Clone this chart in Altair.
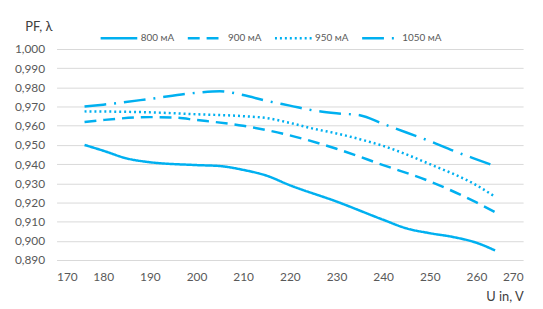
import altair as alt
import pandas as pd

series_names = ["800 мА", "900 мА", "950 мА", "1050 мА"]

u_800 = [176, 180, 185, 190, 200, 205, 210, 215, 220, 230, 240, 245, 250, 255, 260, 264]
pf_800 = [0.950, 0.947, 0.943, 0.941, 0.9395, 0.939, 0.937, 0.934, 0.929, 0.9205, 0.911, 0.9065, 0.904, 0.902, 0.899, 0.895]

u_900 = [176, 180, 190, 195, 200, 210, 220, 230, 240, 250, 260, 264]
pf_900 = [0.962, 0.963, 0.9645, 0.9643, 0.963, 0.960, 0.955, 0.948, 0.9395, 0.931, 0.920, 0.915]

u_950 = [176, 190, 200, 210, 215, 220, 225, 230, 235, 240, 250, 260, 264]
pf_950 = [0.9675, 0.967, 0.966, 0.965, 0.964, 0.9615, 0.9585, 0.956, 0.953, 0.9495, 0.940, 0.929, 0.923]

u_1050 = [176, 180, 190, 200, 205, 210, 215, 220, 225, 230, 235, 240, 245, 250, 255, 260, 264]
pf_1050 = [0.970, 0.971, 0.974, 0.9772, 0.978, 0.976, 0.973, 0.9705, 0.968, 0.9665, 0.9655, 0.961, 0.9565, 0.952, 0.947, 0.9425, 0.939]

y_ticks = [0.89, 0.90, 0.91, 0.92, 0.93, 0.94, 0.95, 0.96, 0.97, 0.98, 0.99, 1.00]
x_ticks = [170, 180, 190, 200, 210, 220, 230, 240, 250, 260, 270]

rows = []
for name, us, pfs in zip(series_names, [u_800, u_900, u_950, u_1050], [pf_800, pf_900, pf_950, pf_1050]):
    for u, p in zip(us, pfs):
        rows.append({"series": name, "u": u, "pf": p})
df = pd.DataFrame(rows)

BLUE = "#00B0F0"
FONT = "Lato"

chart = alt.Chart(df).mark_line(
    color=BLUE, strokeWidth=2.5, interpolate="monotone"
).encode(
    x=alt.X("u:Q",
            scale=alt.Scale(domain=[170, 270], nice=False, zero=False),
            axis=alt.Axis(values=x_ticks, grid=False, domain=False, ticks=False,
                          labelPadding=12, labelFontSize=12, labelColor="#595959",
                          title="U in, V", titleFontSize=13, titleFontWeight="normal",
                          titleColor="#404040", titleAlign="right", titleX=471,
                          titleY=37, titleBaseline="middle")),
    y=alt.Y("pf:Q",
            scale=alt.Scale(domain=[0.89, 1.0], nice=False, zero=False),
            axis=alt.Axis(values=y_ticks, grid=True, gridColor="#d9d9d9", domain=False,
                          ticks=False, labelPadding=12, labelFontSize=12,
                          labelColor="#595959",
                          labelExpr="replace(format(datum.value, '.3f'), '.', ',')",
                          title="PF, λ", titleAngle=0, titleFontSize=13,
                          titleFontWeight="normal", titleColor="#404040",
                          titleAlign="left", titleX=-32, titleY=-23,
                          titleBaseline="middle")),
    strokeDash=alt.StrokeDash(
        "series:N",
        sort=series_names,
        scale=alt.Scale(domain=series_names,
                        range=[[1, 0], [12, 7], [2, 3], [22, 8, 2, 8]]),
        legend=alt.Legend(title=None, orient="none", legendX=43, legendY=-31,
                          direction="horizontal", symbolType="stroke",
                          symbolSize=1369, symbolStrokeWidth=2.5,
                          symbolStrokeColor=BLUE, labelFontSize=10,
                          labelColor="#595959", labelOffset=2, columnPadding=8)),
    detail="series:N",
).properties(
    width=471, height=213,
    autosize=alt.AutoSizeParams(type="none"),
    padding={"left": 49, "top": 40, "right": 12, "bottom": 47},
).configure(
    font=FONT,
).configure_view(stroke=None)

chart.save("out.html", embed_options={"renderer": "svg", "actions": False})
